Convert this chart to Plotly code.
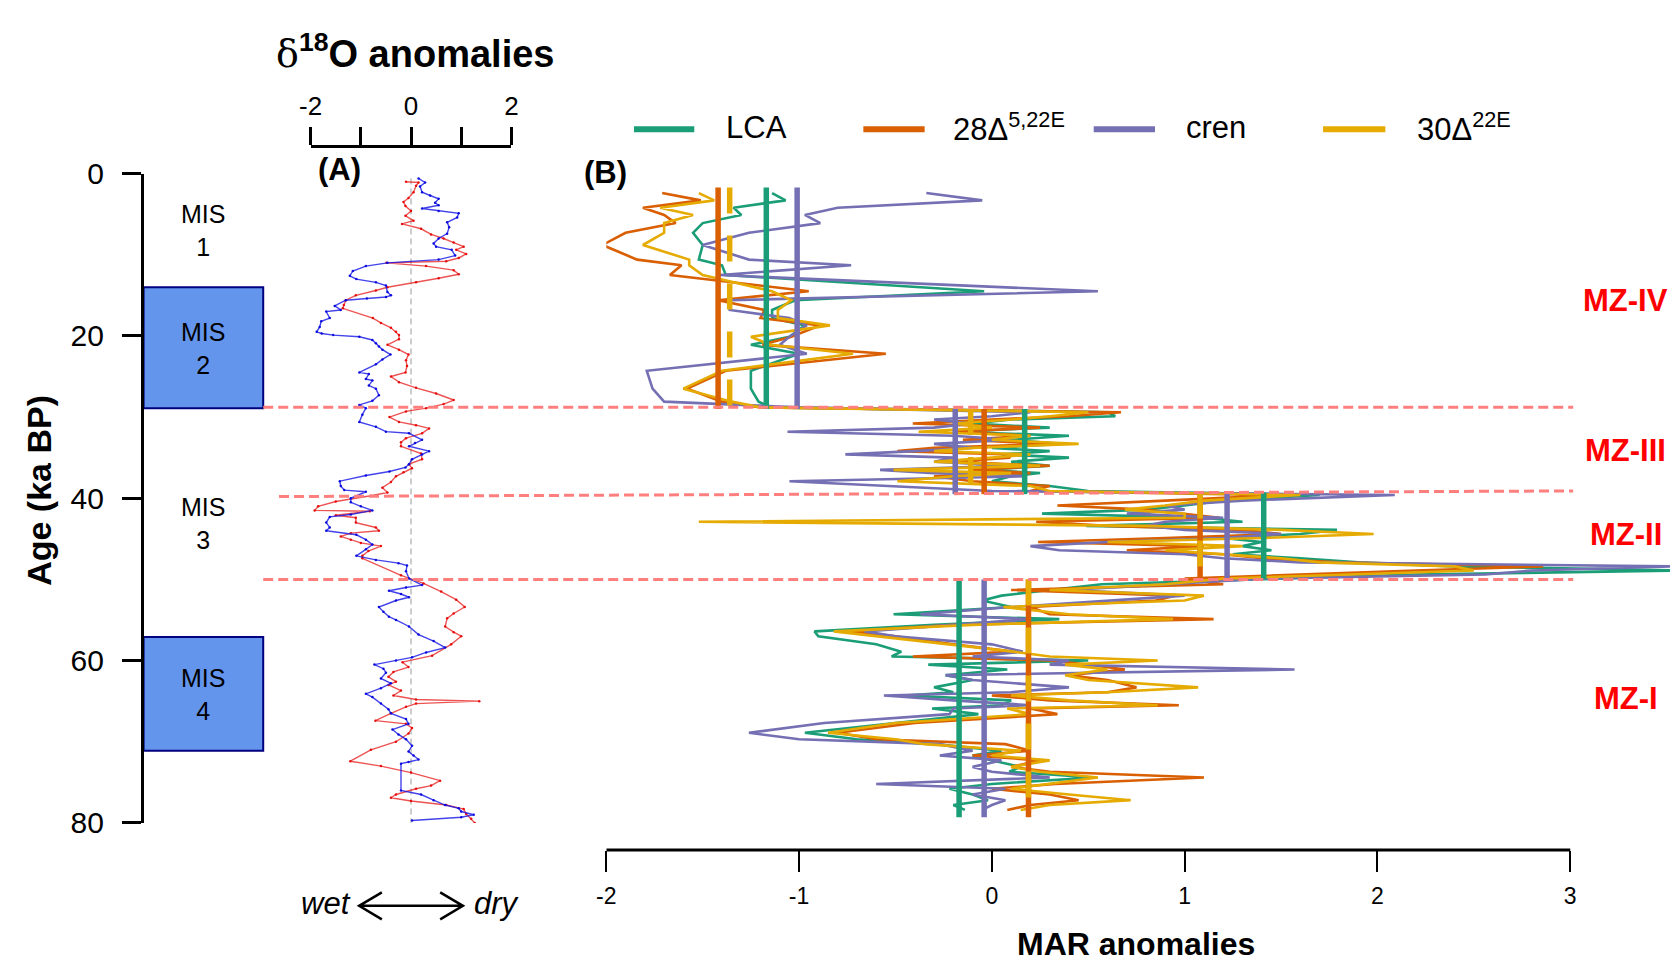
import plotly.graph_objects as go

W, H = 1678, 966
FONT = "Liberation Sans, Arial, sans-serif"

# ---------------- Panel A : d18O anomalies ----------------
blue_age = [0.6, 1.1, 1.6, 2.3, 2.7, 3.1, 3.6, 3.9, 4.3, 4.6, 4.9, 5.4, 6.0, 6.6, 7.4, 8.0, 8.6, 9.0, 9.4, 10.1,
            10.6, 11.0, 11.4, 12.0, 12.6, 13.0, 13.4, 13.8, 14.6, 15.0, 15.2, 15.4, 15.6, 16.3, 16.8, 17.0, 17.8, 18.2, 18.9, 19.5,
            19.7, 19.9, 20.1, 20.5, 20.9, 21.3, 21.7, 22.3, 22.9, 23.5, 24.5, 24.7, 25.3, 25.5, 26.1, 26.5, 27.3, 28.0, 28.5, 28.9,
            29.7, 30.6, 31.2, 31.8, 32.0, 32.8, 33.2, 33.6, 34.2, 34.6, 35.2, 35.8, 36.2, 36.7, 37.2, 37.9, 38.5, 39.0, 39.2, 40.0,
            40.5, 41.0, 41.5, 42.0, 42.3, 43.0, 43.6, 44.0, 44.5, 45.1, 45.7, 46.3, 47.1, 47.6, 48.0, 48.3, 49.0, 49.9, 50.7, 51.0,
            51.4, 51.8, 52.2, 52.6, 53.4, 54.0, 54.6, 55.0, 55.8, 56.8, 57.6, 58.4, 59.0, 59.6, 60.0, 60.5, 61.0, 61.5, 62.2, 62.8,
            63.4, 64.1, 64.5, 65.3, 66.0, 66.5, 67.2, 67.8, 68.5, 69.1, 69.7, 70.5, 71.2, 71.7, 72.2, 72.5, 72.7, 76.0, 76.5, 77.2,
            77.8, 78.2, 78.6, 79.0, 79.3, 79.7]
blue_d18o = [0.15, 0.28, 0.18, 0.22, 0.38, 0.55, 0.48, 0.55, 0.22, 0.55, 0.95, 0.92, 0.72, 0.76, 0.72, 0.55, 0.45, 0.50, 0.81, 0.88,
             0.55, -0.47, -0.90, -1.16, -1.22, -1.09, -0.70, -0.50, -0.47, -0.40, -0.50, -0.88, -1.30, -1.52, -1.40, -1.69, -1.62, -1.79, -1.82, -1.88,
             -1.78, -1.55, -1.03, -0.77, -0.70, -0.64, -0.57, -0.41, -0.57, -0.70, -1.03, -0.84, -0.90, -0.77, -0.84, -0.70, -0.64, -0.77, -1.03, -0.90,
             -0.97, -1.03, -0.70, -0.50, -0.04, 0.22, 0.08, -0.04, 0.36, 0.22, 0.02, -0.04, -0.11, -0.43, -0.90, -1.42, -1.40, -1.33, -0.90, -1.20,
             -1.20, -1.00, -0.77, -1.20, -1.62, -1.69, -1.62, -1.69, -1.09, -0.90, -0.77, -0.90, -1.09, -0.70, -0.25, -0.08, -0.10, -0.04, 0.22, -0.10,
             -0.44, -0.20, -0.04, -0.30, -0.64, -0.55, -0.44, -0.30, -0.04, 0.15, 0.45, 0.68, 0.30, 0.02, -0.30, -0.73, -0.55, -0.50, -0.60, -0.40,
             -0.60, -0.90, -0.77, -0.60, -0.45, -0.40, -0.10, -0.05, -0.37, -0.25, -0.10, 0.02, -0.05, 0.05, 0.15, -0.05, -0.20, -0.20, 0.20, 0.45,
             0.68, 0.95, 1.00, 1.25, 1.00, 0.02]

red_age = [1.0, 1.1, 1.5, 2.3, 3.0, 3.5, 4.0, 4.6, 5.2, 5.8, 6.2, 6.8, 7.5, 8.0, 8.5, 9.0, 9.4, 9.9, 10.4, 10.8,
           11.0, 11.4, 11.9, 12.4, 12.9, 13.4, 14.0, 14.4, 15.0, 15.6, 16.2, 16.6, 17.8, 18.4, 19.0, 19.5, 19.9, 20.4, 21.1, 21.7,
           22.3, 23.0, 23.7, 24.5, 25.0, 25.7, 26.4, 27.1, 27.9, 28.4, 28.9, 29.3, 30.0, 30.6, 31.0, 31.4, 32.0, 32.6, 33.1, 33.6,
           34.5, 35.2, 35.8, 36.3, 36.8, 37.3, 38.0, 38.7, 39.3, 39.7, 40.4, 41.0, 41.5, 41.6, 42.1, 42.4, 43.0, 43.6, 44.0, 44.3,
           44.7, 45.1, 45.5, 45.9, 46.5, 47.1, 47.4, 49.5, 50.5, 51.5, 52.5, 53.4, 54.2, 54.8, 55.8, 56.5, 57.0, 58.0, 59.4, 60.2,
           60.8, 61.4, 62.0, 62.6, 63.0, 63.7, 64.3, 64.8, 65.0, 65.3, 65.7, 66.5, 67.4, 67.8, 68.3, 69.0, 70.0, 71.0, 72.4, 73.0,
           73.8, 74.8, 75.4, 75.8, 76.5, 76.9, 77.3, 77.8, 78.3, 78.9, 79.5, 80.0]
red_d18o = [-0.10, 0.15, 0.10, 0.05, -0.05, -0.15, -0.11, 0.00, -0.11, 0.05, -0.18, 0.20, 0.40, 0.65, 0.85, 1.05, 0.90, 1.10, 0.95, 0.70,
            -0.49, 0.30, 0.85, 0.95, 0.55, 0.10, -0.47, -0.70, -1.10, -1.30, -1.34, -1.36, -0.76, -0.60, -0.40, -0.30, -0.24, -0.24, -0.47, -0.24,
            -0.05, -0.10, -0.08, -0.11, -0.40, -0.24, 0.10, 0.50, 0.85, 0.65, 0.30, -0.10, -0.43, -0.24, 0.10, 0.36, 0.22, -0.10, -0.20, -0.20,
            0.20, 0.22, -0.04, 0.02, -0.15, -0.30, -0.40, -0.57, -0.47, -0.80, -1.50, -1.85, -1.92, -0.82, -1.50, -1.10, -1.10, -0.70, -0.64, -1.20,
            -1.40, -1.20, -1.00, -0.60, -0.85, -0.97, -0.97, -0.20, 0.25, 0.60, 0.90, 1.07, 0.85, 0.72, 0.68, 0.85, 1.00, 0.80, 0.42, -0.17,
            -0.05, -0.35, -0.45, -0.30, -0.45, -0.20, -0.35, 0.10, 1.36, 0.10, -0.10, -0.40, -0.71, -0.10, 0.02, -0.05, -0.30, -0.80, -1.21, -0.60,
            0.00, 0.58, 0.40, 0.10, -0.30, -0.40, 0.00, 0.70, 1.05, 1.10, 1.20, 1.27]

# ---------------- Panel B : MAR anomalies ----------------
age_IV = [2.4, 3.3, 4.2, 5.1, 6.1, 7.3, 8.8, 10.6, 11.3, 12.5, 14.5, 15.6, 16.8, 17.8, 18.7, 20.1, 21.1, 22.2, 24.3, 26.5, 28.1, 28.8]
age_III = [29.4, 29.9, 30.3, 30.8, 31.3, 31.8, 32.3, 32.8, 33.3, 33.8, 34.2, 34.6, 35.0, 35.5, 36.0, 36.5, 36.9, 37.3, 37.9, 38.5, 39.1]
age_II = [39.6, 40.3, 40.9, 41.4, 41.9, 42.4, 42.9, 43.4, 43.9, 44.4, 44.9, 45.4, 45.9, 46.4, 46.9, 47.4, 47.9, 48.4, 48.9, 49.4, 49.9]
age_I = [50.6, 51.3, 52.0, 52.6, 53.4, 54.3, 54.9, 55.6, 56.4, 57.0, 58.0, 58.9, 59.5, 60.0, 60.5, 61.1, 61.8, 62.4, 63.3, 63.9,
         64.3, 64.9, 65.5, 65.9, 66.6, 67.7, 68.9, 69.7, 70.3, 71.1, 71.7, 72.3, 73.1, 73.7, 74.4, 75.2, 75.8, 76.5, 77.2, 77.8, 78.4]

lca_IV = [-1.14, -1.07, -1.34, -1.30, -1.50, -1.55, -1.50, -1.52, -1.40, -1.38, -0.04, -1.02, -1.14, -1.14, -0.97, -1.05, -1.25, -1.00, -1.25, -1.25, -1.21, -1.15]
lca_III = [0.60, 0.64, 0.10, -0.10, 0.30, -0.20, 0.40, 0.10, 0.35, 0.00, 0.30, 0.05, 0.40, 0.10, 0.30, -0.05, 0.25, 0.10, 0.00, 0.30, 0.50]
lca_II = [1.70, 1.20, 1.00, 0.80, 0.26, 1.10, 1.30, 0.49, 1.79, 1.60, 1.20, 1.40, 1.30, 1.45, 1.25, 1.60, 1.90, 2.40, 3.57, 2.20, 1.50]
lca_I = [0.57, 0.30, 0.05, -0.05, 0.10, -0.51, 0.35, -0.30, -0.92, -0.90, -0.60, -0.47, -0.52, 0.50, -0.33, 0.08, -0.24, -0.10, -0.30, -0.20,
         -0.45, 0.10, 0.05, -0.31, -0.07, -0.50, -0.97, -0.70, -0.30, 0.05, -0.10, 0.00, 0.15, 0.09, 0.53, 0.00, -0.22, -0.10, -0.02, -0.20, -0.14]

c28_IV = [-1.71, -1.51, -1.81, -1.70, -1.64, -1.90, -2.02, -1.84, -1.61, -1.67, -0.95, -1.42, -1.18, -1.20, -0.89, -1.04, -1.19, -0.55, -1.38, -1.58, -1.40, -1.20]
c28_III = [0.67, 0.40, 0.00, -0.41, 0.25, -0.20, 0.20, -0.15, 0.30, -0.30, -0.49, 0.10, 0.09, -0.20, 0.30, -0.10, 0.20, -0.30, -0.10, 0.30, 0.20]
c28_II = [1.50, 0.90, 0.34, 0.80, 1.00, 1.18, 0.23, 0.60, 1.30, 1.50, 0.90, 0.24, 1.10, 0.70, 1.20, 1.40, 1.80, 2.86, 2.20, 1.60, 1.00]
c28_I = [1.20, 0.10, 0.95, 0.85, 0.20, 0.30, 1.15, -0.20, -0.73, -0.50, -0.20, 0.11, -0.41, 0.30, 0.50, 0.69, 0.40, 0.60, 0.75, 0.60,
         0.00, 0.30, 0.97, 0.20, 0.34, -0.40, -0.80, -0.60, 0.07, 0.20, -0.10, 0.25, 0.10, 0.30, 1.10, 0.33, 0.00, 0.30, 0.45, 0.20, 0.08]

cren_IV = [-0.34, -0.05, -0.80, -0.97, -0.89, -1.26, -1.50, -1.26, -0.73, -1.41, 0.55, -1.36, -1.36, -1.05, -0.96, -1.05, -1.10, -0.96, -1.79, -1.76, -1.70, -1.00]
cren_III = [0.20, 0.00, -0.30, -0.10, -0.30, -1.06, -0.20, 0.10, -0.30, -0.10, -0.40, -0.76, -0.20, -0.30, 0.10, -0.58, -0.30, 0.18, -1.05, -0.50, 0.00]
cren_II = [2.09, 1.30, 0.90, 1.00, 0.70, 1.20, 0.90, 0.80, 1.00, 1.50, 1.20, 0.60, 0.20, 0.35, 1.00, 1.20, 1.60, 3.54, 2.80, 2.56, 1.40]
cren_I = [0.90, 0.40, 1.00, 0.60, 0.10, -0.37, 0.20, -0.20, -0.66, -0.50, 0.00, 0.16, -0.10, 0.40, 0.30, 1.57, -0.24, -0.10, 0.40, 0.10,
          -0.56, -0.20, 0.20, -0.20, -0.22, -0.87, -1.26, -1.00, -0.27, -0.10, -0.27, 0.05, -0.10, 0.00, 0.30, -0.60, 0.07, -0.10, 0.07, 0.00, -0.05]

c30_IV = [-1.52, -1.44, -1.72, -1.55, -1.70, -1.70, -1.81, -1.57, -1.57, -1.50, -1.14, -1.04, -1.11, -1.11, -0.84, -1.25, -1.15, -0.72, -1.40, -1.60, -1.35, -1.20]
c30_III = [0.50, 0.30, 0.10, -0.20, 0.00, -0.38, 0.20, 0.00, 0.45, -0.10, -0.30, 0.20, 0.00, -0.30, 0.25, -0.51, 0.10, -0.20, -0.49, 0.20, 0.30]
c30_II = [1.60, 1.10, 0.90, 0.69, 1.00, 1.00, -1.52, 0.80, 1.50, 1.98, 1.40, 0.60, 1.30, 0.90, 1.20, 1.50, 1.70, 2.40, 2.50, 1.80, 1.20]
c30_I = [0.90, 0.30, 1.10, 1.00, 0.06, 0.40, 0.94, -0.10, -0.82, -0.60, -0.20, 0.11, 0.30, 0.86, 0.38, 0.60, 0.38, 0.50, 1.07, 0.60,
         0.10, 0.40, 0.86, 0.08, 0.20, -0.50, -0.85, -0.50, -0.35, 0.15, 0.00, 0.30, 0.10, 0.25, 0.55, 0.30, 0.10, 0.40, 0.72, 0.30, 0.15]

# zone means (MZ-IV, MZ-III, MZ-II, MZ-I)
zone_top = [1.7, 29.0, 39.3, 50.0]
zone_bot = [29.0, 39.5, 50.0, 79.3]
lca_mean = [-1.17, 0.17, 1.41, -0.17]
c28_mean = [-1.42, -0.04, 1.08, 0.19]
cren_mean = [-1.01, -0.19, 1.22, -0.04]
c30_mean = [-1.36, -0.11, 1.08, 0.19]

zone_names = ["MZ-IV", "MZ-III", "MZ-II", "MZ-I"]
zone_label_age = [15.6, 34.1, 44.5, 64.7]
boundary_left = [28.8, 39.8, 50.0]
boundary_right = [28.8, 39.1, 50.0]

mis_names = ["MIS<br>1", "MIS<br>2", "MIS<br>3", "MIS<br>4"]
mis_label_age = [7.0, 21.6, 43.1, 64.2]
mis_box_top = [14.0, 57.1]
mis_box_bot = [28.9, 71.1]

age_ticks = [0, 20, 40, 60, 80]
d18o_ticks = [-2, 0, 2]
d18o_ticktext = ["-2", "0", "2"]
d18o_minor = [-1, 1]
mar_ticks = [-2, -1, 0, 1, 2, 3]
mar_ticktext = ["-2", "-1", "0", "1", "2", "3"]

series = [
    ("LCA", "#1B9E77", lca_IV + lca_III + lca_II + lca_I, lca_mean, "solid"),
    ("28Δ<sup>5,22E</sup>", "#D95F02", c28_IV + c28_III + c28_II + c28_I, c28_mean, "solid"),
    ("cren", "#7570B3", cren_IV + cren_III + cren_II + cren_I, cren_mean, "solid"),
    ("30Δ<sup>22E</sup>", "#E6AB02", c30_IV + c30_III + c30_II + c30_I, c30_mean, "26px,22px"),
]
mar_age = age_IV + age_III + age_II + age_I


def px(x):
    return x / W


def py(y):
    return 1 - y / H


fig = go.Figure()

# panel A
fig.add_trace(go.Scatter(x=red_d18o, y=red_age, xaxis="x", yaxis="y", mode="lines+markers",
                         line=dict(color="rgba(232,40,40,0.8)", width=1.4),
                         marker=dict(size=2.5, color="rgba(230,0,0,0.9)"), showlegend=False))
fig.add_trace(go.Scatter(x=blue_d18o, y=blue_age, xaxis="x", yaxis="y", mode="lines+markers",
                         line=dict(color="rgba(20,20,230,0.8)", width=1.4),
                         marker=dict(size=2.5, color="rgba(0,0,220,0.9)"), showlegend=False))

# panel B series
for name, col, vals, means, dash in series:
    fig.add_trace(go.Scatter(x=vals, y=mar_age, xaxis="x2", yaxis="y", mode="lines",
                             line=dict(color=col, width=2.6), showlegend=False, name=name))
# zone mean lines
for name, col, vals, means, dash in series:
    for k in range(len(zone_top)):
        fig.add_trace(go.Scatter(x=[means[k], means[k]], y=[zone_top[k], zone_bot[k]], xaxis="x2", yaxis="y",
                                 mode="lines", line=dict(color=col, width=5.5, dash=dash), showlegend=False,
                                 hoverinfo="skip"))

shapes = []
# MIS boxes
for t, b in zip(mis_box_top, mis_box_bot):
    shapes.append(dict(type="rect", xref="paper", yref="y", x0=px(125), x1=px(246), y0=t, y1=b,
                       fillcolor="#6495ED", line=dict(color="#000080", width=2), layer="below"))
# zone boundaries
for i, (yl, yr) in enumerate(zip(boundary_left, boundary_right)):
    x0 = px(262) if i == 1 else px(246)
    shapes.append(dict(type="line", xref="paper", yref="y", x0=x0, x1=px(1571), y0=yl, y1=yr,
                       line=dict(color="#FF7F7F", width=3, dash="10px,5px")))
# zero line panel A
shapes.append(dict(type="line", xref="x", yref="y", x0=0, x1=0, y0=0.6, y1=80,
                   line=dict(color="#9a9a9a", width=1, dash="6px,4px"), layer="below"))
# bottom axis line panel B
shapes.append(dict(type="line", xref="x2", yref="paper", x0=-2, x1=3, y0=py(855), y1=py(855),
                   line=dict(color="black", width=3)))
# wet/dry double arrow
ya = py(913)
shapes.append(dict(type="path", xref="paper", yref="paper",
                   path=f"M {px(343)} {ya} L {px(448)} {ya} "
                        f"M {px(366)} {py(899)} L {px(343)} {ya} L {px(366)} {py(927)} "
                        f"M {px(425)} {py(899)} L {px(448)} {ya} L {px(425)} {py(927)}",
                   line=dict(color="black", width=2.5)))
# legend lines
leg_x = [(621, 682), (853, 915), (1086, 1148), (1318, 1381)]
leg_tx = [712, 942, 1177, 1411]
for (a, b), (name, col, vals, means, dash) in zip(leg_x, series):
    shapes.append(dict(type="line", xref="paper", yref="paper", x0=px(a), x1=px(b), y0=py(108), y1=py(108),
                       line=dict(color=col, width=6)))


def note(x, y, text, size, xanchor="center", yanchor="middle", color="black", yref="paper", **kw):
    return dict(x=x, y=y, xref="paper", yref=yref, xanchor=xanchor, yanchor=yanchor, showarrow=False,
                text=text, font=dict(size=size, family=FONT, color=color), **kw)


ann = []
ann.append(note(px(257), py(27),
                "<span style='font-family:DejaVu Serif, serif'>δ</span><b><sup>18</sup>O anomalies</b>",
                38, xanchor="left"))
for (name, col, vals, means, dash), tx in zip(series, leg_tx):
    ann.append(note(px(tx), py(106), name, 31, xanchor="left"))
ann.append(note(px(323), py(150), "<b>(A)</b>", 31))
ann.append(note(px(592), py(153), "<b>(B)</b>", 31))
for nm, ag in zip(zone_names, zone_label_age):
    ann.append(note(px(1624), ag, f"<b>{nm}</b>", 31, color="#FF0000", yref="y"))
for nm, ag in zip(mis_names, mis_label_age):
    ann.append(note(px(185), ag, nm, 25, yref="y"))
ann.append(note(px(19), py(482), "<b>Age (ka BP)</b>", 34, textangle=-90))
ann.append(note(px(1129), py(953), "<b>MAR anomalies</b>", 32))
ann.append(note(px(337), py(911), "<i>wet</i>", 31, xanchor="right"))
ann.append(note(px(457), py(911), "<i>dry</i>", 31, xanchor="left"))

fig.update_layout(
    width=W, height=H, margin=dict(l=0, r=0, t=0, b=0),
    paper_bgcolor="white", plot_bgcolor="rgba(0,0,0,0)",
    font=dict(family=FONT, color="black"),
    showlegend=False,
    shapes=shapes, annotations=ann,
    yaxis=dict(domain=[py(827), py(154)], range=[80, 0], anchor="free", position=px(123),
               tickvals=age_ticks, ticks="outside", ticklen=19, tickwidth=2.5, tickcolor="black",
               showline=True, linewidth=2.5, linecolor="black", showgrid=False, zeroline=False,
               tickfont=dict(size=30, family=FONT), ticklabelstandoff=12),
    xaxis=dict(domain=[px(294), px(497)], range=[-2, 2], anchor="free", position=py(125), side="top",
               tickvals=d18o_ticks, ticktext=d18o_ticktext, ticks="outside", ticklen=18, tickwidth=2.5,
               tickcolor="black", showline=True, linewidth=2.5, linecolor="black", showgrid=False,
               zeroline=False, tickfont=dict(size=26, family=FONT), ticklabelstandoff=1,
               minor=dict(tickvals=d18o_minor, ticks="outside", ticklen=18, tickwidth=2.5, tickcolor="black",
                          showgrid=False)),
    xaxis2=dict(domain=[px(593), 1.0], range=[-2, -2 + (1678 - 593) / 195.0], anchor="free", position=py(855),
                side="bottom", tickvals=mar_ticks, ticktext=mar_ticktext, ticks="outside", ticklen=21, tickwidth=2,
                tickcolor="black", showline=False, showgrid=False, zeroline=False,
                tickfont=dict(size=23, family=FONT), ticklabelstandoff=4),
)

fig.write_html("out.html")
